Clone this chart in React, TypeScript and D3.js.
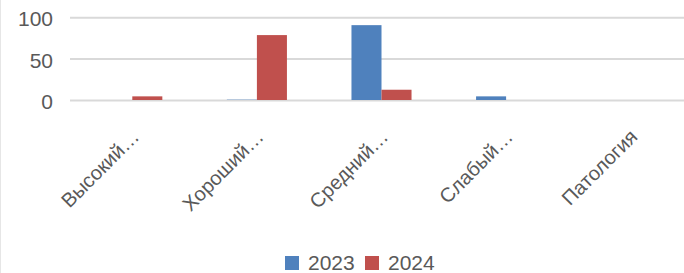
import React from 'react';
import * as d3 from 'd3';

const categories = ['Высокий…', 'Хороший…', 'Средний…', 'Слабый…', 'Патология'];
const seriesNames = ['2023', '2024'];
const values2023 = [0, 1, 91, 5, 0];
const values2024 = [5, 79, 13, 0, 0];
const yTicks = [0, 50, 100];

const colors = ['#4f81bd', '#c0504d'];
const textColor = '#595959';
const gridColor = '#d9d9d9';
const font = "'Liberation Sans', Arial, sans-serif";

export default function App() {
  const width = 684;
  const height = 273;

  const x = d3.scaleBand<string>()
    .domain(categories)
    .range([70, 693])
    .paddingInner(0.518)
    .paddingOuter(0.259);

  const xSub = d3.scaleBand<string>()
    .domain(seriesNames)
    .range([0, x.bandwidth()]);

  const y = d3.scaleLinear().domain([0, 100]).range([100.5, 17.7]);

  const series = [values2023, values2024];

  return (
    <svg
      width={width}
      height={height}
      style={{ position: 'absolute', left: 0, top: 0, background: '#fff' }}
      fontFamily={font}
    >
      <line x1={0.5} x2={0.5} y1={0} y2={height} stroke="#e6e6e6" />

      {/* gridlines + y labels */}
      {yTicks.map((t) => (
        <g key={t}>
          <line x1={70} x2={width} y1={y(t)} y2={y(t)} stroke={gridColor} strokeWidth={2} />
          <text x={53} y={y(t) + 8.5} textAnchor="end" fontSize={21} fill={textColor}>
            {t}
          </text>
        </g>
      ))}

      {/* bars */}
      {series.map((vals, si) =>
        vals.map((v, ci) => {
          if (v <= 0) return null;
          const bx = (x(categories[ci]) || 0) + (xSub(seriesNames[si]) || 0);
          return (
            <rect
              key={`${si}-${ci}`}
              x={bx}
              y={y(v)}
              width={xSub.bandwidth()}
              height={y(0) - y(v) - 0.5}
              fill={colors[si]}
            />
          );
        })
      )}

      {/* category labels */}
      {categories.map((c) => {
        const cx = (x(c) || 0) + x.bandwidth() / 2;
        return (
          <text
            key={c}
            transform={`translate(${cx + 8},${138}) rotate(-45)`}
            textAnchor="end"
            fontSize={20}
            fill={textColor}
          >
            {c}
          </text>
        );
      })}

      {/* legend */}
      {seriesNames.map((s, i) => {
        const lx = [285, 365][i];
        return (
          <g key={s}>
            <rect x={lx} y={256} width={14} height={14} fill={colors[i]} />
            <text x={lx + 23} y={270} fontSize={21} fill={textColor}>
              {s}
            </text>
          </g>
        );
      })}
    </svg>
  );
}
